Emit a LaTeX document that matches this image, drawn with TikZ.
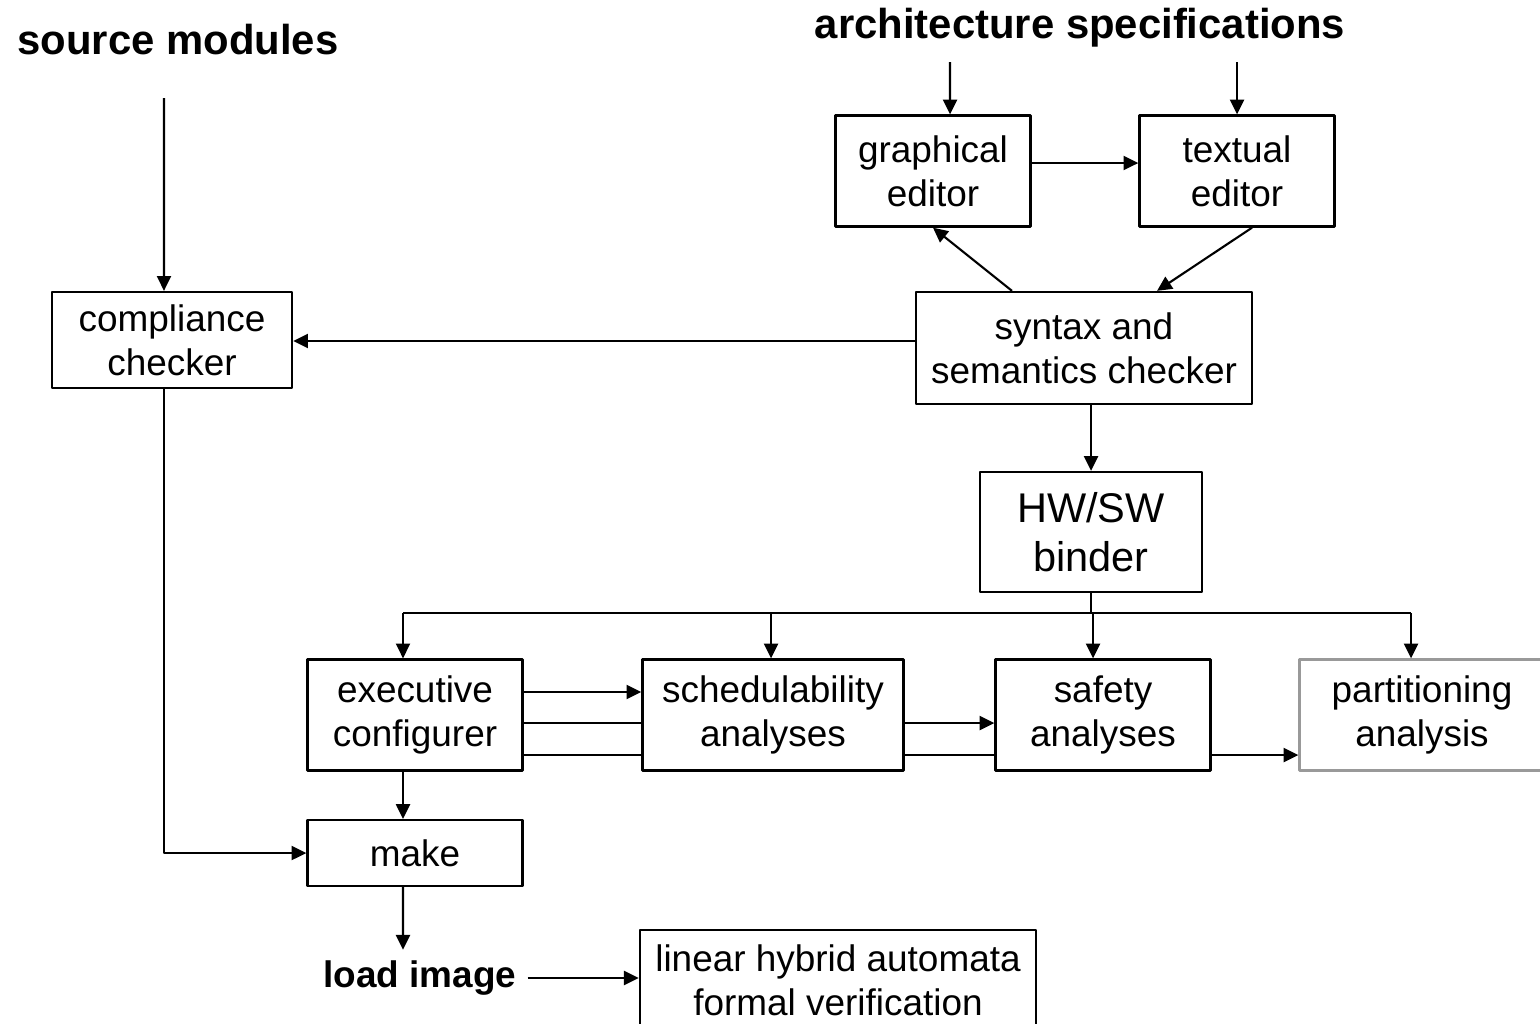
\documentclass[tikz,border=0pt]{standalone}
\usepackage{fontspec}
\setmainfont{Liberation Sans}
\usetikzlibrary{arrows.meta}
\begin{document}
\begin{tikzpicture}[x=0.01cm, y=-0.01cm, line width=0.6pt, line join=round, >={Triangle[length=4.2pt,width=4pt]},
	box/.style={draw, line width=0.65pt, align=center, inner sep=0pt, font=\fontsize{10.5}{12.6}\selectfont},
	title/.style={font=\bfseries\fontsize{11.9}{14}\selectfont}]
	\useasboundingbox (0,0) rectangle (1540,1023);
	% Tieu de
	\node[title] (src) at (178,40) {source modules};
	\node[title] (arch) at (1080,28) {architecture specifications};
	\coordinate (S) at (164,98);
	\coordinate (P) at (950,62);
	\coordinate (Q) at (1237,62);
	% Cac khoi
	\node[box, minimum width=2.4cm, minimum height=0.96cm] (comp) at (172,340) {compliance\\checker};
	\node[box, minimum width=1.95cm, minimum height=1.11cm] (ged) at (933,171) {graphical\\editor};
	\node[box, minimum width=1.95cm, minimum height=1.11cm] (ted) at (1237,171) {textual\\editor};
	\node[box, minimum width=3.36cm, minimum height=1.12cm] (syn) at (1084,348) {syntax and\\semantics checker};
	\node[box, minimum width=2.22cm, minimum height=1.2cm, font=\fontsize{11.8}{14}\selectfont] (bind) at (1091,532) {HW/SW\\binder};
	\node[box, minimum width=2.15cm, minimum height=1.11cm] (exe) at (415,715) {executive\\configurer};
	\node[box, minimum width=2.61cm, minimum height=1.11cm] (sch) at (773,715) {schedulability\\analyses};
	\node[box, minimum width=2.15cm, minimum height=1.11cm] (saf) at (1103,715) {safety\\analyses};
	\node[box, draw=gray!80, minimum width=2.45cm, minimum height=1.11cm] (part) at (1422,715) {partitioning\\analysis};
	\node[box, minimum width=2.15cm, minimum height=0.66cm] (make) at (415,853) {make};
	\node[title, font=\bfseries\fontsize{10.5}{12.6}\selectfont, inner sep=0.1cm] (load) at (420,978) {load image};
	\node[box, minimum width=3.96cm, minimum height=1.0cm] (lin) at (838,980) {linear hybrid automata\\formal verification};
	% Mui ten phia tren
	\draw[->] (S) -- ([xshift=-0.08cm]comp.north);
	\draw[->] (P) -- ([xshift=0.17cm]ged.north);
	\draw[->] (Q) -- (ted.north);
	\draw[->] ([yshift=0.08cm]ged.east) -- ([yshift=0.08cm]ged.east -| ted.west);
	\draw[->] ([xshift=-0.72cm]syn.north) -- (ged.south);
	\draw[->] ([xshift=0.15cm]ted.south) -- ([xshift=0.73cm]syn.north);
	\draw[->] ([yshift=0.07cm]syn.west) -- ([yshift=0.07cm]syn.west -| comp.east);
	\draw[->] (syn.south -| bind) -- (bind.north);
	% Phan nhanh tu binder
	\coordinate (bl) at (403,613);
	\coordinate (br) at (1411,613);
	\draw (bl) -- (br);
	\draw (bind.south) -- (bind.south |- bl);
	\foreach \n/\dx in {exe/-0.12, sch/-0.02, saf/-0.1, part/-0.11}
		\draw[->] ([xshift=\dx cm]\n.north |- bl) -- ([xshift=\dx cm]\n.north);
	% Giua cac phan tich
	\draw[->] ([yshift=0.23cm]exe.east) -- ([yshift=0.23cm]sch.west);
	\draw ([yshift=-0.08cm]exe.east) -- ([yshift=-0.08cm]sch.west);
	\draw ([yshift=-0.4cm]exe.east) -- ([yshift=-0.4cm]sch.west);
	\draw[->] ([yshift=-0.08cm]sch.east) -- ([yshift=-0.08cm]saf.west);
	\draw ([yshift=-0.4cm]sch.east) -- ([yshift=-0.4cm]saf.west);
	\draw[->] ([yshift=-0.4cm]saf.east) -- ([yshift=-0.4cm]part.west);
	% Phia duoi
	\draw[->] ([xshift=-0.12cm]exe.south) -- ([xshift=-0.12cm]make.north);
	\draw[->] ([xshift=-0.08cm]comp.south) |- (make.west);
	\draw[->] ([xshift=-0.12cm]make.south) -- ([xshift=-0.17cm]load.north);
	\draw[->] (load.east) -- (load.east -| lin.west);
\end{tikzpicture}
\end{document}
